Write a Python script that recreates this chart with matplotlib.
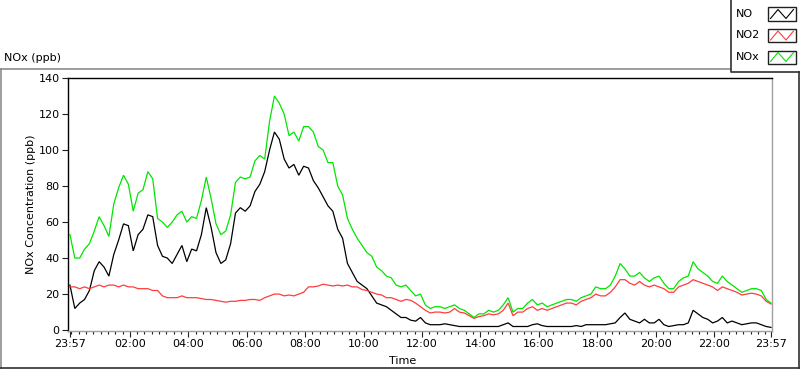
import matplotlib
matplotlib.use("Agg")
import matplotlib.pyplot as plt
from matplotlib.lines import Line2D
from matplotlib.patches import Rectangle

# ---- data (minutes after 23:57, 10-minute readings) ----
minutes = list(range(0, 1441, 10))

no_vals = [25, 12, 15, 17, 22, 33, 38, 35, 30, 42, 50, 59, 58, 44, 53, 56, 64, 63, 47, 41,
           40, 37, 42, 47, 38, 45, 44, 53, 68, 57, 43, 37, 39, 48, 65, 68, 66, 69, 77, 81,
           88, 100, 110, 106, 95, 90, 92, 86, 91, 90, 83, 79, 74, 69, 66, 56, 51, 37, 32, 27,
           25, 23, 19, 15, 14, 13, 11, 9, 7, 7, 5.5, 5, 7, 4, 3, 3, 3, 3.5, 3, 2.5,
           2, 2, 2, 2, 2, 2, 2, 2, 2, 3, 4, 2, 2, 2, 2, 3, 3.5, 2.5, 2, 2,
           2, 2, 2, 2, 2.5, 2, 3, 3, 3, 3, 3, 3.5, 4, 7, 9.5, 6, 5, 4, 6, 4,
           4, 6, 3, 2, 2.5, 3, 3, 4, 11, 9, 7, 6, 4, 5, 7, 4, 5, 4, 3, 3.5,
           4, 4, 3, 2, 1.5]

no2_vals = [24, 24, 23, 24, 23, 24, 25, 24, 25, 25, 24, 25, 24, 24, 23, 23, 23, 22, 22, 19,
            18, 18, 18, 19, 18, 18, 18, 17.5, 17, 17, 16.5, 16, 15.5, 16, 16, 16.5, 16.5, 17, 17, 16.5,
            18, 19, 20, 20, 19, 19.5, 19, 20, 21, 24, 24, 24.5, 25.5, 25, 24.5, 25, 24.5, 25, 24, 24,
            22.5, 22, 21, 20, 19.5, 18, 18, 17, 16, 17, 16.5, 15, 13, 11, 9.5, 10, 10, 9.5, 10, 12,
            10, 9.5, 8, 6.5, 7.5, 8, 9, 8.5, 9, 11, 15, 8, 10, 10, 12, 13, 11, 12, 11, 12,
            13, 14, 15, 15, 14, 16, 17, 18, 20, 19, 19, 21, 24, 28, 28, 26, 25, 27, 25, 24,
            25, 24, 23, 21, 21, 24, 25, 26, 28, 27, 26, 25, 24, 22, 24, 23, 22, 21, 19.5, 20,
            20.5, 20, 19, 16, 14.5]

nox_vals = [53, 40, 40, 45, 48, 55, 63, 58, 52, 70, 79, 86, 81, 66, 76, 78, 88, 84, 62, 60,
            57, 60, 64, 66, 60, 63, 62, 72, 85, 73, 59, 53, 55, 64, 82, 85, 84, 85, 94, 97,
            95, 116, 130, 126, 120, 108, 110, 105, 113, 113, 110, 102, 100, 93, 93, 80, 75, 62, 56, 51,
            47, 43, 41, 35, 33, 30, 29, 25, 24, 25, 22, 19, 20, 14, 12, 13, 13, 12, 13, 14,
            12, 11, 9, 7, 9, 9, 11, 10, 11, 14, 18, 10, 12, 12, 15, 17, 14, 15, 13, 14,
            15, 16, 17, 17, 16, 18, 19, 20, 24, 23, 23, 25, 30, 37, 34, 30, 30, 32, 29, 27,
            29, 30, 26, 23, 23, 27, 29, 30, 38, 34, 32, 30, 27, 26, 30, 27, 25, 23, 21, 22,
            23, 23, 22, 17, 15]

tick_pos = [0, 123, 243, 363, 483, 603, 723, 843, 963, 1083, 1203, 1323, 1440]
tick_labels = ["23:57", "02:00", "04:00", "06:00", "08:00", "10:00", "12:00",
               "14:00", "16:00", "18:00", "20:00", "22:00", "23:57"]
y_ticks = [0, 20, 40, 60, 80, 100, 120, 140]
series_names = ["NO", "NO2", "NOx"]
series_colors = ["#000000", "#ff3c3c", "#00e600"]

# ---- figure ----
W, H = 800, 369
fig = plt.figure(figsize=(W / 100, H / 100), dpi=100)
fig.patch.set_facecolor("white")

def fx(px):
    return px / W

def fy(py):
    return 1 - py / H

FS = 8

ax = fig.add_axes([fx(68), fy(331), fx(772) - fx(68), fy(78) - fy(331)])
for vals, c in zip([no_vals, no2_vals, nox_vals], series_colors):
    ax.plot(minutes, vals, color=c, lw=0.9, solid_joinstyle="miter")

ax.set_xlim(-4, 1442)
ax.set_ylim(-0.5, 140)
ax.set_xticks(tick_pos)
ax.set_xticklabels(tick_labels)
ax.set_xticks(list(range(3, 1440, 15)), minor=True)
ax.set_yticks(y_ticks)
ax.tick_params(axis="both", which="major", direction="out", length=4, width=0.8,
               color="#202020", labelsize=FS, pad=2)
ax.tick_params(axis="x", which="minor", direction="out", length=2.2, width=0.8, color="#202020")
ax.tick_params(axis="y", which="minor", length=0)

for side in ["top", "left"]:
    ax.spines[side].set_color("black")
    ax.spines[side].set_linewidth(1.0)
for side in ["bottom", "right"]:
    ax.spines[side].set_color("#a0a0a0")
    ax.spines[side].set_linewidth(1.0)

ax.set_ylabel("NOx Concentration (ppb)", fontsize=FS, labelpad=2)
ax.set_xlabel("Time", fontsize=FS)
ax.xaxis.set_label_coords((403 - 68) / (772 - 68), -(356 - 331) / (331 - 78))

# ---- surrounding frame ----
fig.add_artist(Line2D([fx(0), fx(730)], [fy(69), fy(69)], color="#8c8c8c", lw=1.2))
fig.add_artist(Line2D([fx(0.8), fx(0.8)], [fy(69), fy(368)], color="#8c8c8c", lw=1.2))
fig.add_artist(Line2D([fx(0), fx(800)], [fy(367.5), fy(367.5)], color="#303030", lw=1.2))
fig.add_artist(Line2D([fx(799.2), fx(799.2)], [fy(72), fy(368)], color="#303030", lw=1.2))
fig.text(fx(4), fy(58), "NOx (ppb)", fontsize=FS, ha="left", va="center")

# ---- legend ----
fig.add_artist(Line2D([fx(730.5), fx(730.5), fx(800)], [fy(0), fy(71.5), fy(71.5)],
                      color="#303030", lw=1.2))
row_y = [14, 35.5, 57]
for name, c, ry in zip(series_names, series_colors, row_y):
    fig.text(fx(736), fy(ry), name, fontsize=FS, ha="left", va="center")
    x0, x1 = 767.5, 796
    y0, y1 = ry - 6.5, ry + 6.5
    fig.add_artist(Rectangle((fx(x0), fy(y1)), fx(x1) - fx(x0), fy(y0) - fy(y1),
                             facecolor="white", edgecolor="#202020", lw=1.0))
    zx = [x0 + 3, x0 + 10.5, x0 + 18.5, x0 + 26]
    zy = [y1 - 2, y0 + 2, y1 - 2, y0 + 2]
    fig.add_artist(Line2D([fx(v) for v in zx], [fy(v) for v in zy], color=c, lw=0.8))

fig.savefig("out.png", dpi=100, facecolor="white")
